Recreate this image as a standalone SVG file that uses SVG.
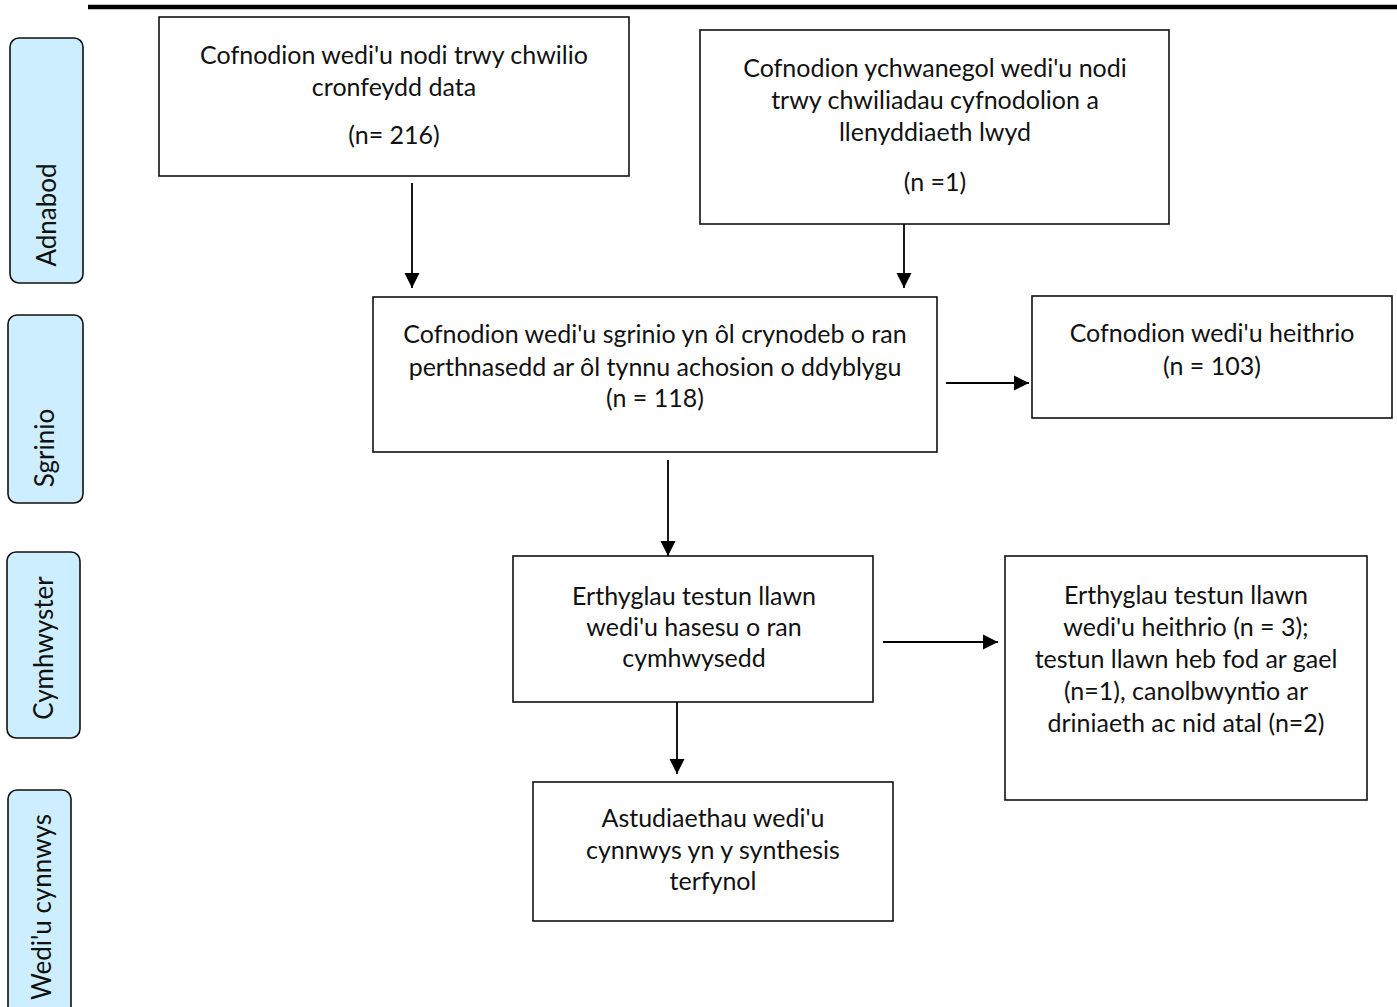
<svg xmlns="http://www.w3.org/2000/svg" width="1397" height="1007" viewBox="0 0 1397 1007">
<defs>
<marker id="ah" markerUnits="userSpaceOnUse" markerWidth="16" markerHeight="16" viewBox="0 0 16 16" refX="15" refY="8" orient="auto">
<path d="M0,0.5 L15,8 L0,15.5 Z" fill="#000"/>
</marker>
<style>
.box{fill:#fff;stroke:#111;stroke-width:1.6}
.lab{fill:#cdeefe;stroke:#111;stroke-width:1.6}
.t{font-family:Lato,"Open Sans","Liberation Sans",sans-serif;font-size:25px;fill:#111;text-anchor:middle}
.lt{font-family:Lato,"Open Sans","Liberation Sans",sans-serif;font-size:26px;fill:#111;text-anchor:middle;dominant-baseline:central}
.c{stroke:#000;stroke-width:1.8;fill:none;marker-end:url(#ah)}
</style>
</defs>
<rect width="1397" height="1007" fill="#fff"/>
<line x1="88" y1="7" x2="1397" y2="7" stroke="#000" stroke-width="4.5"/>

<g id="stage-adnabod"><rect class="lab" x="10" y="38" width="73" height="245" rx="9"/><text class="lt" transform="translate(46,215) rotate(-90)">Adnabod</text></g>
<g id="stage-sgrinio"><rect class="lab" x="8" y="315" width="75" height="188" rx="9"/><text class="lt" transform="translate(44,448) rotate(-90)">Sgrinio</text></g>
<g id="stage-cymhwyster"><rect class="lab" x="7" y="552" width="73" height="186" rx="9"/><text class="lt" transform="translate(43,648) rotate(-90)">Cymhwyster</text></g>
<g id="stage-cynnwys"><rect class="lab" x="8" y="790" width="63" height="230" rx="9"/><text class="lt" transform="translate(41,907) rotate(-90)">Wedi'u cynnwys</text></g>

<g id="box-database"><rect class="box" x="159" y="17" width="470" height="159"/>
<text class="t" x="394" y="64">Cofnodion wedi'u nodi trwy chwilio</text>
<text class="t" x="394" y="96">cronfeydd data</text>
<text class="t" x="394" y="144">(n= 216)</text></g>

<g id="box-additional"><rect class="box" x="700" y="30" width="469" height="194"/>
<text class="t" x="935" y="77">Cofnodion ychwanegol wedi'u nodi</text>
<text class="t" x="935" y="109">trwy chwiliadau cyfnodolion a</text>
<text class="t" x="935" y="141">llenyddiaeth lwyd</text>
<text class="t" x="935" y="191">(n =1)</text></g>

<g id="box-screened"><rect class="box" x="373" y="297" width="564" height="155"/>
<text class="t" x="655" y="343">Cofnodion wedi'u sgrinio yn ôl crynodeb o ran</text>
<text class="t" x="655" y="376">perthnasedd ar ôl tynnu achosion o ddyblygu</text>
<text class="t" x="655" y="407">(n = 118)</text></g>

<g id="box-excluded"><rect class="box" x="1032" y="296" width="360" height="122"/>
<text class="t" x="1212" y="342">Cofnodion wedi'u heithrio</text>
<text class="t" x="1212" y="375">(n = 103)</text></g>

<g id="box-fulltext"><rect class="box" x="513" y="556" width="360" height="146"/>
<text class="t" x="694" y="605">Erthyglau testun llawn</text>
<text class="t" x="694" y="636">wedi'u hasesu o ran</text>
<text class="t" x="694" y="667">cymhwysedd</text></g>

<g id="box-fulltext-excluded"><rect class="box" x="1005" y="556" width="362" height="244"/>
<text class="t" x="1186" y="604">Erthyglau testun llawn</text>
<text class="t" x="1186" y="636">wedi'u heithrio (n = 3);</text>
<text class="t" x="1186" y="668">testun llawn heb fod ar gael</text>
<text class="t" x="1186" y="700">(n=1), canolbwyntio ar</text>
<text class="t" x="1186" y="732">driniaeth ac nid atal (n=2)</text></g>

<g id="box-included"><rect class="box" x="533" y="782" width="360" height="139"/>
<text class="t" x="713" y="827">Astudiaethau wedi'u</text>
<text class="t" x="713" y="859">cynnwys yn y synthesis</text>
<text class="t" x="713" y="890">terfynol</text></g>

<g id="connectors">
<line class="c" x1="412" y1="183" x2="412" y2="288"/>
<line class="c" x1="904" y1="224" x2="904" y2="288"/>
<line class="c" x1="946" y1="383" x2="1029" y2="383"/>
<line class="c" x1="668" y1="460" x2="668" y2="556"/>
<line class="c" x1="883" y1="642" x2="998" y2="642"/>
<line class="c" x1="677" y1="702" x2="677" y2="774"/>
</g>
</svg>
